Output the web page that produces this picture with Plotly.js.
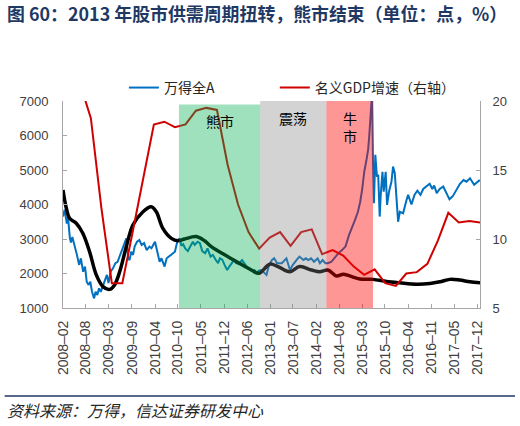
<!DOCTYPE html>
<html>
<head>
<meta charset="utf-8">
<script src="https://cdn.plot.ly/plotly-3.0.1.min.js"></script>
<style>
  html, body { margin: 0; padding: 0; background: #ffffff; }
  #chart { width: 520px; height: 426px; }
</style>
</head>
<body>
<div id="chart"></div>
<script>
// 万得全A index (left axis, points)
const indexDates = [
  '2008-02-01','2008-02-15','2008-03-05','2008-03-15','2008-04-01','2008-04-10','2008-04-22','2008-05-10',
  '2008-06-01','2008-06-20','2008-07-05','2008-07-25','2008-08-10','2008-08-25','2008-09-10','2008-09-25',
  '2008-10-10','2008-10-28','2008-11-10','2008-11-25','2008-12-10','2008-12-25','2009-01-10','2009-02-01',
  '2009-02-16','2009-03-02','2009-03-20','2009-04-10','2009-05-01','2009-05-20','2009-06-10','2009-06-25',
  '2009-07-15','2009-08-04','2009-08-20','2009-09-01','2009-09-15','2009-10-01','2009-10-15','2009-11-05',
  '2009-11-25','2009-12-15','2010-01-05','2010-01-28','2010-02-20','2010-03-10','2010-04-10','2010-05-05',
  '2010-05-20','2010-06-05','2010-07-02','2010-07-20','2010-08-10','2010-09-01','2010-09-30','2010-10-20',
  '2010-11-10','2010-11-25','2010-12-10','2010-12-28','2011-01-20','2011-02-10','2011-03-05','2011-03-20',
  '2011-04-15','2011-05-05','2011-05-25','2011-06-20','2011-07-10','2011-08-05','2011-08-25','2011-09-20',
  '2011-10-10','2011-10-25','2011-11-15','2011-12-05','2011-12-28','2012-01-15','2012-02-25','2012-03-15',
  '2012-04-10','2012-05-05','2012-06-01','2012-06-25','2012-07-25','2012-08-20','2012-09-10','2012-09-28',
  '2012-10-20','2012-11-20','2012-12-03','2012-12-25','2013-01-20','2013-02-08','2013-03-05','2013-04-15',
  '2013-05-25','2013-06-25','2013-07-20','2013-08-20','2013-09-15','2013-10-20','2013-11-10','2013-12-01',
  '2013-12-25','2014-01-20','2014-02-20','2014-03-12','2014-04-05','2014-04-28','2014-05-20','2014-06-20',
  '2014-07-25','2014-08-20','2014-09-20','2014-10-20','2014-11-20','2014-12-15','2015-01-10','2015-02-05',
  '2015-02-25','2015-03-15','2015-04-01','2015-04-20','2015-05-05','2015-05-15','2015-05-28','2015-06-08',
  '2015-06-16','2015-06-24','2015-07-06','2015-07-20','2015-07-31','2015-08-13','2015-08-22','2015-09-06',
  '2015-09-17','2015-10-04','2015-10-16','2015-11-02','2015-11-23','2015-12-07','2015-12-22','2016-01-06',
  '2016-01-20','2016-02-04','2016-03-03','2016-04-02','2016-04-16','2016-05-15','2016-06-10','2016-07-05',
  '2016-08-01','2016-08-25','2016-09-25','2016-10-20','2016-11-12','2016-11-28','2016-12-20','2017-01-15',
  '2017-02-15','2017-03-15','2017-04-10','2017-05-10','2017-06-10','2017-07-10','2017-08-10','2017-09-05',
  '2017-10-05','2017-11-10','2017-12-29'
];
const indexValues = [
  3650,3850,3450,3650,3020,2900,3060,2780,
  2540,2250,2440,2050,2200,1760,1670,1760,
  1470,1280,1470,1380,1570,1470,1620,1860,
  1960,1720,2050,2150,2300,2340,2540,2700,
  2830,3020,2440,2390,2630,2540,2780,2920,
  2970,2830,2880,2680,2780,2730,2920,2540,
  2340,2440,2200,2440,2490,2540,2630,2920,
  3020,2800,2850,2730,2650,2780,2920,2830,
  2920,2880,2650,2590,2730,2490,2540,2390,
  2300,2440,2400,2250,2100,2200,2390,2300,
  2300,2390,2250,2150,2080,2100,2020,2080,
  2100,2020,1960,2250,2390,2440,2300,2300,
  2440,2100,2250,2390,2490,2390,2440,2390,
  2440,2340,2440,2300,2390,2300,2300,2340,
  2490,2590,2680,2780,3120,3310,3550,3790,
  4080,4470,4950,5290,5600,6020,6790,7250,
  5240,4035,5440,4810,4860,3650,4280,4950,
  4370,4950,3990,4370,4660,5100,4910,4280,
  3500,3790,3745,4130,4280,4000,4280,4400,
  4280,4450,4520,4600,4450,4550,4330,4450,
  4520,4300,4150,4250,4420,4600,4710,4660,
  4760,4570,4710
];

// Supply-demand cycle curve (left axis, points)
const cycleDates = [
  '2008-02-01','2008-03-01','2008-03-29','2008-05-26','2008-07-22','2008-09-19','2008-11-16','2009-01-13',
  '2009-03-11','2009-04-24','2009-06-07','2009-08-04','2009-09-30','2009-12-27','2010-03-08','2010-04-21',
  '2010-06-17','2010-08-30','2010-10-26','2010-12-23','2011-04-03','2011-06-14','2011-08-12','2011-12-06',
  '2012-03-31','2012-07-25','2012-09-27','2013-01-01','2013-03-12','2013-06-23','2013-09-18','2013-12-29',
  '2014-03-10','2014-05-20','2014-08-02','2014-09-29','2014-11-26','2015-02-22','2015-06-16','2015-10-11',
  '2016-02-04','2016-06-28','2016-10-22','2017-01-17','2017-04-13','2017-07-08','2017-10-04','2017-12-31'
];
const cycleValues = [
  4420,3890,3600,3455,3165,2630,1960,1620,
  1540,1670,2050,2780,3405,3790,3935,3790,
  3310,3020,2950,3000,3070,2950,2780,2540,
  2315,2100,2005,2270,2200,2050,2200,2100,
  2050,2100,1930,1980,1930,1840,1830,1770,
  1730,1690,1710,1760,1830,1810,1760,1735
];

// 名义GDP增速, quarterly, % (right axis)
const gdpDates = [
  '2008-03-31','2008-06-30','2008-09-30','2008-12-31','2009-03-31','2009-06-30','2009-09-30','2009-12-31',
  '2010-03-31','2010-06-30','2010-09-30','2010-12-31','2011-03-31','2011-06-30','2011-09-30','2011-12-31',
  '2012-03-31','2012-06-30','2012-09-30','2012-12-31','2013-03-31','2013-06-30','2013-09-30','2013-12-31',
  '2014-03-31','2014-06-30','2014-09-30','2014-12-31','2015-03-31','2015-06-30','2015-09-30','2015-12-31',
  '2016-03-31','2016-06-30','2016-09-30','2016-12-31','2017-03-31','2017-06-30','2017-09-30','2017-12-31'
];
const gdpValues = [
  22.0,21.2,18.75,12.2,6.8,6.8,10.6,14.5,
  18.3,18.5,18.1,18.3,19.3,19.5,19.35,15.4,
  12.5,10.5,9.3,10.1,10.5,9.5,10.5,10.7,
  8.9,9.2,8.8,8.0,7.4,7.8,6.8,6.6,
  7.5,7.6,8.2,9.9,11.9,11.2,11.3,11.2
];

// Market phases
const phaseNames = ['熊市', '震荡', '牛<br>市'];
const phaseStart = ['2010-11-04', '2012-10-10', '2014-05-07'];
const phaseEnd   = ['2012-10-10', '2014-05-07', '2015-06-16'];
const phaseTop   = [6900, 7000, 7000];

// Category tick labels along the time axis
const tickLabels = [
  '2008–02','2008–08','2009–03','2009–09','2010–04','2010–10','2011–05','2011–12','2012–06','2013–01',
  '2013–07','2014–02','2014–08','2015–03','2015–10','2016–04','2016–11','2017–05','2017–12'
];

// ---- styling ----
const phaseFill = ['rgb(0,176,80)', 'rgb(128,128,128)', 'rgb(255,0,0)'];
const phaseOpacity = [0.38, 0.35, 0.41];
const phaseLabelY = [0.903, 0.918, 0.872];

const latin = 'Liberation Sans, Arial, sans-serif';
const cjk = 'Noto Sans CJK SC, sans-serif';

// Labels sit at even steps along the axis
const t0 = Date.UTC(2008, 1, 1);
const t1 = Date.UTC(2017, 11, 6);
const tickVals = tickLabels.map((_, i) =>
  new Date(t0 + i * (t1 - t0) / (tickLabels.length - 1)).toISOString().slice(0, 10));

const traces = [
  {
    x: indexDates, y: indexValues, name: '万得全A', type: 'scatter', mode: 'lines',
    line: { color: '#0070C0', width: 2 }, yaxis: 'y', legend: 'legend'
  },
  {
    x: cycleDates, y: cycleValues, name: '周期', type: 'scatter', mode: 'lines',
    line: { color: '#000000', width: 3.5, shape: 'spline', smoothing: 1 }, yaxis: 'y', showlegend: false
  },
  {
    x: gdpDates, y: gdpValues, name: '名义GDP增速（右轴）', type: 'scatter', mode: 'lines',
    line: { color: '#D00000', width: 2 }, yaxis: 'y2', legend: 'legend2'
  }
];

const mid = (a, b) => new Date((Date.parse(a) + Date.parse(b)) / 2).toISOString().slice(0, 10);

const shapes = phaseNames.map((_, i) => ({
  type: 'rect', xref: 'x', yref: 'y', layer: 'above',
  x0: phaseStart[i], x1: phaseEnd[i], y0: 1000, y1: phaseTop[i],
  fillcolor: phaseFill[i], opacity: phaseOpacity[i], line: { width: 0 }
}));
// rule above the source note
shapes.push({
  type: 'line', xref: 'paper', yref: 'paper',
  x0: -0.14, x1: 1.084, y0: -0.425, y1: -0.425,
  line: { color: '#1F3864', width: 1.5 }
});

const annotations = phaseNames.map((name, i) => ({
  text: name, xref: 'x', yref: 'paper',
  x: mid(phaseStart[i], phaseEnd[i]), y: phaseLabelY[i],
  showarrow: false, xanchor: 'center', yanchor: 'middle',
  font: { family: cjk, size: 14, color: '#000000' }
}));
annotations.push({
  text: '<i>资料来源：万得，信达证券研发中心</i>', xref: 'paper', yref: 'paper',
  x: -0.14, y: -0.493, xanchor: 'left', yanchor: 'middle', showarrow: false,
  font: { family: cjk, size: 16, color: '#262626' }
});

const legendStyle = (xPos) => ({
  orientation: 'h', x: xPos, y: 1.063, xanchor: 'left', yanchor: 'middle',
  font: { family: cjk, size: 14, color: '#262626' },
  bgcolor: 'rgba(0,0,0,0)'
});

const axisGrey = '#a6a6a6';
const layout = {
  width: 520, height: 426,
  margin: { l: 63, r: 40, t: 101, b: 118, pad: 0 },
  paper_bgcolor: '#ffffff', plot_bgcolor: '#ffffff',
  title: {
    text: '<b>图 60：2013 年股市供需周期扭转，熊市结束（单位：点，%）</b>',
    xref: 'container', yref: 'container', x: 0.0135, y: 0.965,
    xanchor: 'left', yanchor: 'middle',
    font: { family: cjk, size: 17.9, color: '#1F3864' }
  },
  showlegend: true,
  legend: legendStyle(0.146),
  legend2: legendStyle(0.508),
  xaxis: {
    type: 'date', range: ['2008-02-01', '2017-12-31'],
    tickmode: 'array', tickvals: tickVals, ticktext: tickLabels, tickangle: -90,
    ticks: 'inside', ticklen: 4, tickcolor: axisGrey,
    showline: true, linecolor: axisGrey, linewidth: 1,
    showgrid: false, zeroline: false, ticklabelstandoff: 6,
    tickfont: { family: latin, size: 14, color: '#404040' }
  },
  yaxis: {
    range: [1000, 7000], tick0: 1000, dtick: 1000,
    ticks: 'inside', ticklen: 4, tickcolor: axisGrey,
    showline: true, linecolor: axisGrey, linewidth: 1,
    showgrid: false, zeroline: false, ticklabelstandoff: 11,
    tickfont: { family: latin, size: 13, color: '#404040' }
  },
  yaxis2: {
    overlaying: 'y', side: 'right', range: [5, 20], tick0: 5, dtick: 5,
    ticks: 'inside', ticklen: 4, tickcolor: axisGrey,
    showline: true, linecolor: axisGrey, linewidth: 1,
    showgrid: false, zeroline: false, ticklabelstandoff: 9,
    tickfont: { family: latin, size: 13, color: '#404040' }
  },
  shapes: shapes,
  annotations: annotations
};

Plotly.newPlot('chart', traces, layout, { staticPlot: true, displayModeBar: false });
</script>
</body>
</html>
